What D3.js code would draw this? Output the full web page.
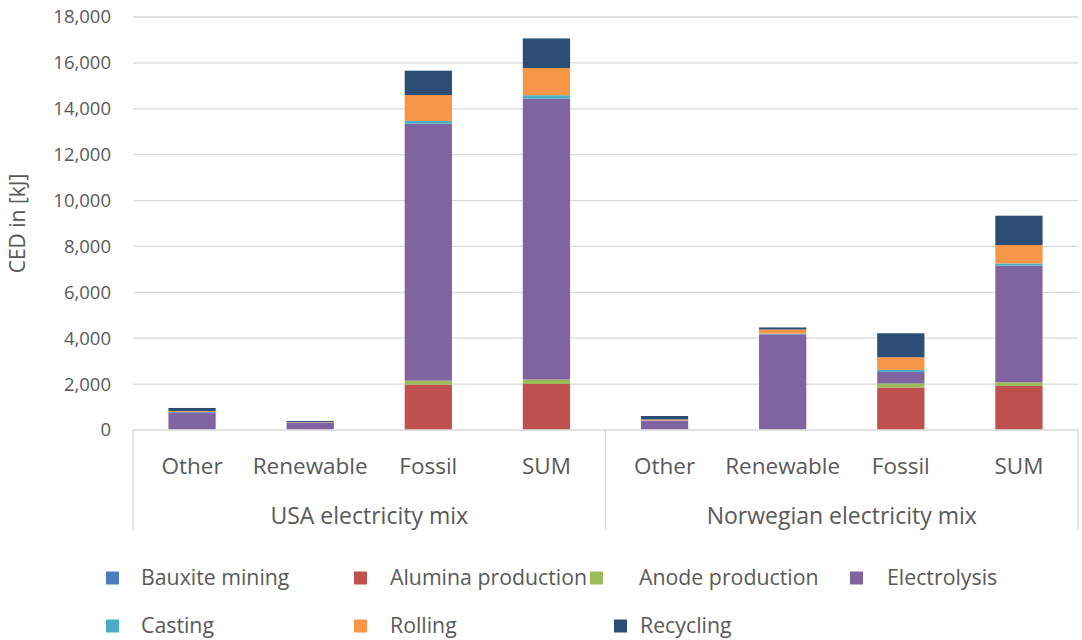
<!DOCTYPE html>
<html>
<head>
<meta charset="utf-8">
<script src="https://cdn.jsdelivr.net/npm/d3@7"></script>
<style>
  html, body { margin: 0; padding: 0; background: #ffffff; }
  svg { display: block; font-family: "Open Sans", "Noto Sans", sans-serif; }
</style>
</head>
<body>
<svg id="chart" width="1082" height="640"></svg>
<script>
// Categories along the x axis, grouped by electricity mix
const categories = ["Other", "Renewable", "Fossil", "SUM", "Other", "Renewable", "Fossil", "SUM"];
const groups = ["USA electricity mix", "Norwegian electricity mix"];

// Process steps, stacked bottom to top
const seriesNames = ["Bauxite mining", "Alumina production", "Anode production", "Electrolysis", "Casting", "Rolling", "Recycling"];
const seriesColors = ["#4a7ebb", "#c0504d", "#9bbb59", "#8064a2", "#4bacc6", "#f79646", "#2c4d75"];

// CED per process step in kJ, one value per category
const bauxiteMining     = [5, 5, 10, 20, 5, 5, 10, 20];
const aluminaProduction = [10, 5, 1970, 1985, 10, 10, 1840, 1900];
const anodeProduction   = [15, 10, 170, 195, 15, 25, 180, 160];
const electrolysis      = [740, 300, 11200, 12240, 375, 4130, 500, 5080];
const casting           = [20, 10, 120, 150, 10, 30, 90, 100];
const rolling           = [40, 15, 1130, 1185, 45, 180, 550, 800];
const recycling         = [130, 45, 1060, 1290, 150, 90, 1045, 1280];

const yTicks = [0, 2000, 4000, 6000, 8000, 10000, 12000, 14000, 16000, 18000];
const yTitle = "CED in [kJ]";

const seriesValues = [bauxiteMining, aluminaProduction, anodeProduction, electrolysis, casting, rolling, recycling];

// Table for the stack layout
const table = categories.map((c, i) => {
  const row = { key: i };
  seriesNames.forEach((s, j) => { row[s] = seriesValues[j][i]; });
  return row;
});

const svg = d3.select("#chart");
const plotLeft = 133, plotRight = 1078, plotTop = 17, plotBottom = 430;
const textColor = "#595959";
const gridColor = "#d9d9d9";

const x = d3.scaleBand()
  .domain(categories.map((c, i) => i))
  .range([plotLeft, plotRight])
  .paddingInner(0.6)
  .paddingOuter(0.3);

const y = d3.scaleLinear().domain([0, 18000]).range([plotBottom, plotTop]);

// Horizontal gridlines
svg.append("g").selectAll("line")
  .data(yTicks.filter(t => t > 0))
  .join("line")
  .attr("x1", plotLeft).attr("x2", plotRight)
  .attr("y1", d => y(d)).attr("y2", d => y(d))
  .attr("stroke", gridColor).attr("stroke-width", 1.3);

// Y axis tick labels
const yAxis = d3.axisLeft(y).tickValues(yTicks).tickSize(0).tickPadding(22)
  .tickFormat(d3.format(","));
const gy = svg.append("g").attr("transform", `translate(${plotLeft},0)`).call(yAxis);
gy.select(".domain").remove();
gy.selectAll("text")
  .attr("fill", textColor)
  .style("font-size", "18.5px")
  .style("font-family", "\"Open Sans\", sans-serif");

// Y axis title
svg.append("text")
  .attr("transform", `translate(18,${(plotTop + plotBottom) / 2}) rotate(-90)`)
  .attr("text-anchor", "middle")
  .attr("dy", "0.35em")
  .attr("fill", textColor)
  .style("font-size", "21px")
  .text(yTitle);

// Stacked bars
const stack = d3.stack().keys(seriesNames);
const layers = stack(table);
svg.append("g").selectAll("g")
  .data(layers)
  .join("g")
  .attr("fill", (d, i) => seriesColors[i])
  .selectAll("rect")
  .data(d => d)
  .join("rect")
  .attr("x", d => x(d.data.key))
  .attr("width", x.bandwidth())
  .attr("y", d => y(d[1]))
  .attr("height", d => Math.max(0, y(d[0]) - y(d[1])));

// Category axis with group boxes
const axisBottom = 530;
const axisG = svg.append("g").attr("stroke", gridColor).attr("stroke-width", 1.3);
axisG.append("line").attr("x1", plotLeft).attr("x2", plotRight).attr("y1", plotBottom).attr("y2", plotBottom);
const groupEdges = [plotLeft, (x(3) + x.bandwidth() + x(4)) / 2, plotRight];
groupEdges.forEach(gx => {
  axisG.append("line").attr("x1", gx).attr("x2", gx).attr("y1", plotBottom).attr("y2", axisBottom);
});

svg.append("g").selectAll("text")
  .data(categories)
  .join("text")
  .attr("x", (d, i) => x(i) + x.bandwidth() / 2)
  .attr("y", 466)
  .attr("dy", "0.35em")
  .attr("text-anchor", "middle")
  .attr("fill", textColor)
  .style("font-size", "22.5px")
  .text(d => d);

svg.append("g").selectAll("text")
  .data(groups)
  .join("text")
  .attr("x", (d, gi) => (groupEdges[gi] + groupEdges[gi + 1]) / 2)
  .attr("y", 516)
  .attr("dy", "0.35em")
  .attr("text-anchor", "middle")
  .attr("fill", textColor)
  .style("font-size", "23px")
  .text(d => d);

// Legend: two rows
const legendSlots = [
  { mx: 106, tx: 141, cy: 578 },
  { mx: 354, tx: 390, cy: 578 },
  { mx: 590, tx: 639, cy: 578 },
  { mx: 850, tx: 887, cy: 578 },
  { mx: 106, tx: 141, cy: 626 },
  { mx: 354, tx: 390, cy: 626 },
  { mx: 614, tx: 640, cy: 626 }
];
const legend = svg.append("g").selectAll("g")
  .data(seriesNames)
  .join("g");
legend.append("rect")
  .attr("x", (d, i) => legendSlots[i].mx)
  .attr("y", (d, i) => legendSlots[i].cy - 6.5)
  .attr("width", 13).attr("height", 13)
  .attr("fill", (d, i) => seriesColors[i]);
legend.append("text")
  .attr("x", (d, i) => legendSlots[i].tx)
  .attr("y", (d, i) => legendSlots[i].cy)
  .attr("dy", "0.35em")
  .attr("fill", textColor)
  .style("font-size", "21.3px")
  .text(d => d);
</script>
</body>
</html>
